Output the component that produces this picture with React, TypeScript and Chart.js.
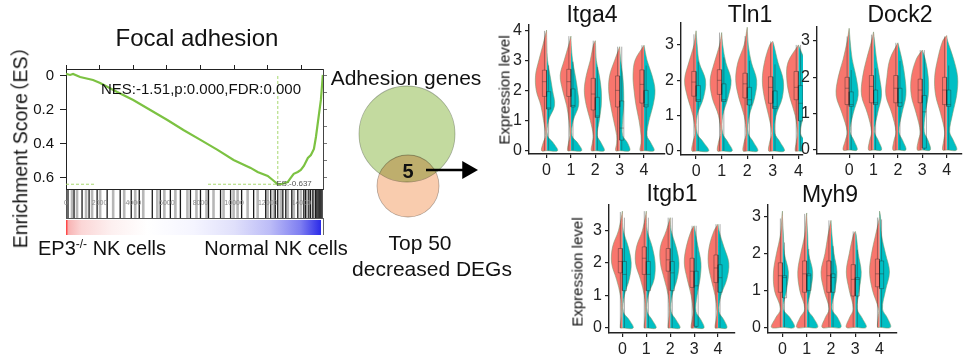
import React, { useEffect, useRef } from 'react';
import { Chart, registerables } from 'chart.js';
Chart.register(...registerables);

const FONT = '"Liberation Sans", Arial, Helvetica, "Noto Sans CJK SC", sans-serif';
Chart.defaults.font.family = FONT;

// ---------------- GSEA data ----------------
const esRanks = [0, 240, 420, 840, 1610, 2030, 3045, 4000, 5015, 6030, 6985, 8000, 9015, 9970, 10985, 11400, 12000, 12300, 12600, 12900, 13190, 13370, 13550, 13790, 13970, 14150, 14390, 14570, 14750, 14870, 15045, 15165, 15220, 15280];
const esScores = [0.012, 0.006, 0.012, -0.006, -0.024, -0.041, -0.094, -0.141, -0.2, -0.259, -0.318, -0.376, -0.435, -0.494, -0.541, -0.565, -0.588, -0.612, -0.637, -0.634, -0.624, -0.6, -0.576, -0.565, -0.553, -0.529, -0.482, -0.465, -0.429, -0.359, -0.229, -0.141, -0.071, 0.006];
const esMinRank = 12600;
const esMinScore = -0.637;
const esGuideBreaks = [1750, 8450];
const rankMax = 15290;
const rankTicks = [0, 2000, 4000, 6000, 8000, 10000, 12000, 14000];
const esTickValues = [0, -0.2, -0.4, -0.6];
const esTickLabels = ['0', '0.2', '0.4', '0.6'];
const esRightTicks = [0, -0.1, -0.2, -0.3, -0.4, -0.5, -0.6];
const hitsDark = [119, 478, 955, 1373, 1851, 2448, 3224, 3881, 4358, 5134, 5612, 6209, 6806, 7403, 8000, 8478, 9194, 9791, 10448, 11164, 11881, 12179, 12450, 12597, 12900, 13075, 13433, 13791, 14149, 14250, 14448, 14550, 14687, 14850, 14925, 15000, 15100, 15164, 15230];
const hitsLight = [358, 657, 1194, 1552, 2030, 2806, 3463, 4119, 4597, 5433, 5851, 6507, 7224, 7761, 8358, 8776, 9373, 9970, 10209, 10806, 11403, 12000, 12358, 12776, 13194, 13552, 13970, 14328, 14746, 15045];
const nesText = 'NES:-1.51,p:0.000,FDR:0.000';
const esMinText = 'ES:-0.637';

// ---------------- Venn data ----------------
const vennNames = ['Adhesion genes', 'Top 50 decreased DEGs'];
const vennCx = [0, 1];
const vennCy = [0, -52];
const vennR = [48, 31];
const vennOverlap = 5;
const arrowX = [19, 60.5];
const arrowY = -36;

// ---------------- Violin data ----------------
const groupLabels = ['0', '1', '2', '3', '4'];
const groupValues = [0, 1, 2, 3, 4];
const violinLevels = [0, 0.25, 0.5, 1, 1.5, 2, 2.5, 3, 3.5];

const itga4Tops = [4.0, 3.8, 3.65, 3.45, 3.5];
const itga4Red = [[5, 3.5, 1, 3, 5.7, 10.3, 11, 7.7, 3.7], [3.3, 2.5, 1, 2, 4.3, 8.3, 10.7, 6.7, 2.3], [4, 3, 2, 5, 9, 11, 9, 5, 2], [4, 3, 3, 6, 9, 11, 10, 5, 1], [4, 3, 3, 5, 8, 10, 11, 9, 2]];
const itga4Teal = [[11, 7, 1, 2, 8, 6, 3.5, 1, 0.3], [10.7, 7, 1, 2.3, 7.7, 6.7, 4.3, 1.7, 0.3], [9, 6, 2, 4, 6, 6, 4, 1, 0.3], [10, 8, 3, 3, 4, 4, 3, 1, 0], [10, 7, 3, 5, 9, 11, 8, 3, 0.5]];
const itga4BoxRed = [[1.8, 2.29, 2.67], [1.8, 2.29, 2.7], [1.35, 1.88, 2.4], [1.45, 2.0, 2.48], [1.58, 2.2, 2.68]];
const itga4BoxTeal = [[1.38, 1.42, 1.96], [1.45, 1.5, 2.05], [1.1, 1.15, 1.77], [0.35, 0.75, 1.65], [1.45, 1.52, 2.0]];

const tln1Tops = [3.4, 3.35, 3.5, 3.1, 3.0];
const tln1Red = [[4, 3, 1, 3, 8, 11, 7, 2, 0.5], [4, 3, 1, 3, 9, 11, 7, 2, 0.5], [4, 3, 1, 3, 8, 11, 9, 3, 1], [4, 3, 1, 4, 8, 10, 8, 3, 0], [3, 2, 1, 3, 8, 11, 10, 5, 0]];
const tln1Teal = [[12, 7, 1, 1, 7, 9, 3, 1, 0], [10, 6, 1, 1, 6, 9, 4, 1, 0], [10, 6, 1, 2, 7, 9, 4, 1, 0], [11, 7, 2, 3, 9, 10, 5, 1, 0], [10, 7, 2, 5, 10, 12, 7, 2, 0]];
const tln1BoxRed = [[1.55, 1.95, 2.25], [1.6, 2.0, 2.3], [1.5, 1.9, 2.2], [1.35, 1.8, 2.1], [1.45, 1.8, 2.25]];
const tln1BoxTeal = [[1.4, 1.45, 1.85], [1.4, 1.45, 1.9], [1.3, 1.45, 1.8], [1.2, 1.25, 1.7], [0.85, 1.35, 1.85]];

const dock2Tops = [3.35, 3.25, 2.95, 2.75, 3.15];
const dock2Red = [[6, 4, 2, 7, 13, 11, 6, 2, 0.5], [5, 4, 2, 6, 12, 11, 7, 2, 0.5], [5, 4, 2, 6, 12, 11, 8, 3, 0], [5, 4, 2, 6, 11, 11, 6, 1, 0], [4, 3, 2, 6, 11, 12, 9, 4, 0.5]];
const dock2Teal = [[8, 5, 1, 4, 9, 7, 3, 1, 0], [8, 5, 1, 4, 8, 6, 3, 1, 0], [8, 5, 1, 4, 8, 7, 4, 1, 0], [8, 6, 2, 3, 6, 6, 3, 0.5, 0], [10, 7, 3, 6, 10, 11, 7, 1, 0]];
const dock2BoxRed = [[1.25, 1.7, 2.0], [1.3, 1.75, 2.05], [1.3, 1.7, 2.05], [1.3, 1.65, 1.95], [1.25, 1.65, 2.0]];
const dock2BoxTeal = [[1.2, 1.25, 1.6], [1.25, 1.3, 1.65], [1.2, 1.3, 1.7], [0.05, 1.05, 1.5], [1.2, 1.25, 1.65]];

const itgb1Tops = [3.6, 3.6, 3.4, 3.15, 3.2];
const itgb1Red = [[2, 1.5, 1, 2, 6, 11, 10, 4, 0.5], [2, 1.5, 1, 2, 6, 11, 10, 4, 0.5], [2, 1.5, 1, 2, 6, 10, 10, 4, 0.5], [3, 2, 1, 3, 7, 10, 8, 3, 0], [3, 2, 1, 3, 7, 10, 9, 4, 0]];
const itgb1Teal = [[11, 7, 1, 2, 7, 9, 6, 1, 0], [10, 6, 1, 2, 8, 9, 6, 1, 0], [10, 6, 1, 2, 7, 9, 6, 1, 0], [10, 7, 2, 3, 6, 7, 4, 1, 0], [9, 6, 1, 3, 9, 11, 6, 1, 0]];
const itgb1BoxRed = [[1.7, 2.05, 2.45], [1.65, 2.15, 2.5], [1.75, 2.1, 2.45], [1.25, 1.75, 2.15], [1.4, 1.85, 2.25]];
const itgb1BoxTeal = [[1.15, 1.65, 2.05], [1.15, 1.65, 2.05], [1.15, 1.7, 2.05], [0.05, 1.3, 1.75], [1.1, 1.55, 1.95]];

const myh9Tops = [3.15, 3.1, 2.9, 2.6, 3.15];
const myh9Red = [[11, 7, 2, 8, 9, 6, 2, 0.5, 0], [10, 7, 2, 7, 9, 6, 2, 0.5, 0], [9, 6, 2, 7, 10, 6, 3, 0.5, 0], [9, 6, 2, 6, 9, 6, 2, 0, 0], [2, 1.5, 1, 7, 10, 8, 4, 0, 0]];
const myh9Teal = [[12, 8, 1, 4, 6, 2, 1, 0, 0], [11, 7, 1, 4, 6, 2, 1, 0, 0], [10, 7, 1, 4, 6, 3, 1, 0, 0], [11, 7, 2, 4, 6, 3, 1, 0, 0], [11, 8, 3, 6, 10, 6, 2, 1, 0]];
const myh9BoxRed = [[0.95, 1.4, 1.75], [0.95, 1.45, 1.8], [0.95, 1.4, 1.8], [0.85, 1.3, 1.7], [1.1, 1.45, 1.85]];
const myh9BoxTeal = [[0.8, 1.35, 1.4], [1.0, 1.4, 1.45], [0.95, 1.35, 1.45], [0.85, 1.3, 1.35], [1.05, 1.45, 1.8]];

// ---------------- styles / layout ----------------
const RED = '#F8766D';
const TEAL = '#00BFC4';
const OUTLINE = 'rgba(120,150,110,0.8)';
const BOXLINE = 'rgba(40,40,40,0.55)';
const DENSITY_TO_X = 1 / 24.4;
const BOX_HALF = 0.17;
const YA = 34, PT = 14, PR = 6, XA = 28;

const panels = [
  { title: 'Itga4', tops: itga4Tops, red: itga4Red, teal: itga4Teal, boxRed: itga4BoxRed, boxTeal: itga4BoxTeal, yTicks: [0, 1, 2, 3, 4], rect: [529, 25, 665, 154], xr: [-0.72, 4.86], yr: [-0.11, 4.17], tpos: [592, 14], ylab: [504, 90] },
  { title: 'Tln1', tops: tln1Tops, red: tln1Red, teal: tln1Teal, boxRed: tln1BoxRed, boxTeal: tln1BoxTeal, yTicks: [0, 1, 2, 3], rect: [681, 23, 803, 155], xr: [-0.59, 4.18], yr: [-0.113, 3.62], tpos: [750, 14], ylab: null },
  { title: 'Dock2', tops: dock2Tops, red: dock2Red, teal: dock2Teal, boxRed: dock2BoxRed, boxTeal: dock2BoxTeal, yTicks: [0, 1, 2, 3], rect: [817, 27, 962, 154], xr: [-1.32, 4.63], yr: [-0.11, 3.385], tpos: [900, 14], ylab: null },
  { title: 'Itgb1', tops: itgb1Tops, red: itgb1Red, teal: itgb1Teal, boxRed: itgb1BoxRed, boxTeal: itgb1BoxTeal, yTicks: [0, 1, 2, 3], rect: [609, 205, 735, 333], xr: [-0.56, 4.71], yr: [-0.154, 3.79], tpos: [672, 193], ylab: [577, 272] },
  { title: 'Myh9', tops: myh9Tops, red: myh9Red, teal: myh9Teal, boxRed: myh9BoxRed, boxTeal: myh9BoxTeal, yTicks: [0, 1, 2, 3], rect: [768, 205, 897, 333], xr: [-0.595, 4.72], yr: [-0.153, 3.316], tpos: [830, 194], ylab: null },
];

function halfViolin(g: number, side: number, widths: number[], top: number) {
  const pts: any[] = [{ x: g, y: 0 }];
  violinLevels.forEach((lv, i) => {
    if (lv < top) pts.push({ x: g + side * widths[i] * DENSITY_TO_X, y: lv });
  });
  pts.push({ x: g, y: top });
  return pts;
}

function boxPath(g: number, side: number, q: number[], top: number) {
  const [q1, med, q3] = q;
  const e = g + side * BOX_HALF;
  const m = g + side * BOX_HALF / 2;
  const hi = Math.min(top, q3 + 1.5 * (q3 - q1));
  return [
    { x: g, y: q1 }, { x: e, y: q1 }, { x: e, y: q3 }, { x: g, y: q3 }, { x: g, y: q1 },
    { x: g, y: null },
    { x: g, y: med }, { x: e, y: med },
    { x: g, y: null },
    { x: m, y: 0 }, { x: m, y: q1 },
    { x: g, y: null },
    { x: m, y: q3 }, { x: m, y: hi },
  ];
}

const axisCommon = (size: number) => ({
  grid: { drawOnChartArea: false, tickLength: 4, color: '#222', lineWidth: 1.2 },
  border: { display: true, color: '#222', width: 1.4 },
  ticks: { font: { size }, color: '#222', padding: 3, autoSkip: false, maxRotation: 0 },
});

function violinConfig(p: any): any {
  const datasets: any[] = [];
  p.tops.forEach((top: number, g: number) => {
    datasets.push({ data: halfViolin(g, -1, p.red[g], top), fill: 'shape', backgroundColor: RED, borderColor: OUTLINE, borderWidth: 0.7, tension: 0.35, pointRadius: 0, order: 2 });
    datasets.push({ data: halfViolin(g, 1, p.teal[g], top), fill: 'shape', backgroundColor: TEAL, borderColor: OUTLINE, borderWidth: 0.7, tension: 0.35, pointRadius: 0, order: 2 });
    datasets.push({ data: boxPath(g, -1, p.boxRed[g], top), fill: false, borderColor: BOXLINE, borderWidth: 0.7, tension: 0, pointRadius: 0, order: 1 });
    datasets.push({ data: boxPath(g, 1, p.boxTeal[g], top), fill: false, borderColor: BOXLINE, borderWidth: 0.7, tension: 0, pointRadius: 0, order: 1 });
  });
  const ax = axisCommon(16);
  return {
    type: 'line',
    data: { datasets },
    options: {
      animation: false, responsive: false, events: [],
      layout: { padding: { left: 0, top: PT, right: PR, bottom: 0 }, autoPadding: false },
      plugins: { legend: { display: false }, tooltip: { enabled: false }, title: { display: false } },
      scales: {
        x: {
          type: 'linear', min: p.xr[0], max: p.xr[1], ...ax,
          ticks: { ...ax.ticks, callback: (v: number) => groupLabels[v] },
          afterBuildTicks: (s: any) => { s.ticks = groupValues.map((v) => ({ value: v })); },
          afterFit: (s: any) => { s.height = XA; },
        },
        y: {
          type: 'linear', min: p.yr[0], max: p.yr[1], ...ax,
          ticks: { ...ax.ticks, callback: (v: number) => String(v) },
          afterBuildTicks: (s: any) => { s.ticks = p.yTicks.map((v: number) => ({ value: v })); },
          afterFit: (s: any) => { s.width = YA; },
        },
      },
    },
  };
}

const gseaBands = {
  id: 'gseaBands',
  beforeDraw(chart: any) {
    const { ctx, chartArea: a, scales } = chart;
    const x = scales.x;
    const y0 = a.bottom, y1 = a.bottom + 29, b0 = y1 + 2, b1 = b0 + 15;
    ctx.save();
    ctx.lineWidth = 2.6;
    ctx.strokeStyle = 'rgba(165,165,165,0.8)';
    hitsLight.forEach((r) => { const px = x.getPixelForValue(r); ctx.beginPath(); ctx.moveTo(px, y0); ctx.lineTo(px, y1); ctx.stroke(); });
    ctx.lineWidth = 1.3;
    ctx.strokeStyle = '#1a1a1a';
    hitsDark.forEach((r) => { const px = x.getPixelForValue(r); ctx.beginPath(); ctx.moveTo(px, y0); ctx.lineTo(px, y1); ctx.stroke(); });
    ctx.lineWidth = 1;
    ctx.strokeStyle = '#555';
    ctx.strokeRect(a.left + 0.5, y0 + 0.5, a.right - a.left - 1, y1 - y0);
    const xl = x.getPixelForValue(0), xr = x.getPixelForValue(rankMax) - 2;
    const g = ctx.createLinearGradient(xl, 0, xr, 0);
    g.addColorStop(0, '#ff3030');
    g.addColorStop(0.01, '#f8b4b4');
    g.addColorStop(0.06, '#fbd6d6');
    g.addColorStop(0.18, '#fdf0f0');
    g.addColorStop(0.32, '#ffffff');
    g.addColorStop(0.5, '#f5f5ff');
    g.addColorStop(0.66, '#e0e0fb');
    g.addColorStop(0.8, '#bcbcf7');
    g.addColorStop(0.92, '#7e7ef1');
    g.addColorStop(1, '#2a2ae8');
    ctx.fillStyle = g;
    ctx.fillRect(xl, b0, xr - xl, b1 - b0);
    ctx.strokeStyle = '#666';
    ctx.beginPath(); ctx.moveTo(a.right + 0.5, y1); ctx.lineTo(a.right + 0.5, b1); ctx.stroke();
    ctx.restore();
  },
};

function gseaConfig(): any {
  const curve = esRanks.map((r, i) => ({ x: r, y: esScores[i] }));
  const hline = [
    { x: 0, y: esMinScore }, { x: esGuideBreaks[0], y: esMinScore }, { x: esGuideBreaks[0], y: null },
    { x: esGuideBreaks[1], y: esMinScore }, { x: esMinRank, y: esMinScore },
  ];
  const vline = [{ x: esMinRank, y: 0 }, { x: esMinRank, y: esMinScore }];
  const tickGrid = { drawOnChartArea: false, color: '#222', lineWidth: 1 };
  return {
    type: 'line',
    data: {
      datasets: [
        { data: curve, borderColor: '#7CC242', borderWidth: 2.2, pointRadius: 0, tension: 0, fill: false, order: 0 },
        { data: hline, borderColor: '#A8D86E', borderWidth: 1, borderDash: [3, 2], pointRadius: 0, fill: false, order: 1 },
        { data: vline, borderColor: '#A8D86E', borderWidth: 1, borderDash: [3, 2], pointRadius: 0, fill: false, order: 1 },
      ],
    },
    options: {
      animation: false, responsive: false, events: [],
      layout: { padding: { left: 0, top: 64, right: 17, bottom: 7 }, autoPadding: false },
      plugins: { legend: { display: false }, tooltip: { enabled: false }, title: { display: false } },
      scales: {
        x: {
          type: 'linear', position: 'bottom', min: 0, max: rankMax,
          grid: { display: false }, border: { display: true, color: '#222', width: 1 },
          ticks: { font: { size: 7 }, color: '#8a8a8a', padding: 2, autoSkip: false, maxRotation: 0, callback: (v: number) => String(v) },
          afterBuildTicks: (s: any) => { s.ticks = rankTicks.map((v) => ({ value: v })); },
          afterFit: (s: any) => { s.height = 49; },
        },
        xTop: {
          type: 'linear', position: 'top', min: 0, max: rankMax,
          grid: { ...tickGrid, tickLength: 4 }, border: { display: true, color: '#222', width: 1 },
          ticks: { display: false },
          afterBuildTicks: (s: any) => { s.ticks = rankTicks.map((v) => ({ value: v })); },
          afterFit: (s: any) => { s.height = 5; },
        },
        y: {
          type: 'linear', position: 'left', min: -0.665, max: 0.041,
          grid: { ...tickGrid, tickLength: 6 }, border: { display: true, color: '#222', width: 1 },
          ticks: { font: { size: 15 }, color: '#111', padding: 6, callback: (v: number, i: number) => esTickLabels[i] },
          afterBuildTicks: (s: any) => { s.ticks = esTickValues.map((v) => ({ value: v })); },
          afterFit: (s: any) => { s.width = 66; },
        },
        yR: {
          type: 'linear', position: 'right', min: -0.665, max: 0.041,
          grid: { ...tickGrid, tickLength: 4, color: '#777' }, border: { display: true, color: '#444', width: 1 },
          ticks: { display: false },
          afterBuildTicks: (s: any) => { s.ticks = esRightTicks.map((v) => ({ value: v })); },
          afterFit: (s: any) => { s.width = 5; },
        },
      },
    },
    plugins: [gseaBands],
  };
}

const multiplyPlugin = {
  id: 'multiply',
  beforeDatasetsDraw(chart: any) { chart.ctx.save(); chart.ctx.globalCompositeOperation = 'multiply'; },
  afterDatasetsDraw(chart: any) { chart.ctx.restore(); },
};

function vennConfig(): any {
  return {
    type: 'bubble',
    data: {
      datasets: [
        { type: 'line', data: [{ x: arrowX[0], y: arrowY }, { x: arrowX[1], y: arrowY }], borderColor: '#000', borderWidth: 2.5, pointRadius: [0, 10.5], pointStyle: 'triangle', pointRotation: 90, pointBackgroundColor: '#000', pointBorderColor: '#000', pointBorderWidth: 0, order: 0, clip: false },
        { label: vennNames[1], data: [{ x: vennCx[1], y: vennCy[1], r: vennR[1] }], backgroundColor: '#F9CCAE', borderColor: 'rgba(130,120,110,0.6)', borderWidth: 0.8, order: 1, clip: false },
        { label: vennNames[0], data: [{ x: vennCx[0], y: vennCy[0], r: vennR[0] }], backgroundColor: '#C3DA9F', borderColor: 'rgba(120,130,110,0.6)', borderWidth: 0.8, order: 2, clip: false },
      ],
    },
    options: {
      animation: false, responsive: false, events: [],
      layout: { padding: 0, autoPadding: false },
      plugins: { legend: { display: false }, tooltip: { enabled: false } },
      scales: {
        x: { type: 'linear', display: false, min: -77, max: 83 },
        y: { type: 'linear', display: false, min: -96, max: 54 },
      },
    },
    plugins: [multiplyPlugin],
  };
}

function ChartBox({ box, make }: { box: number[]; make: () => any }) {
  const ref = useRef<HTMLCanvasElement>(null);
  useEffect(() => {
    const c = new Chart(ref.current as HTMLCanvasElement, make());
    return () => c.destroy();
  }, []);
  return (
    <canvas ref={ref} width={box[2]} height={box[3]}
      style={{ position: 'absolute', left: box[0], top: box[1], width: box[2], height: box[3], display: 'block' }} />
  );
}

function T({ x, y, size, children, bold, rotate, color }: any) {
  return (
    <div style={{
      position: 'absolute', left: x, top: y, transform: `translate(-50%,-50%)${rotate ? ` rotate(${rotate}deg)` : ''}`,
      fontSize: size, fontFamily: FONT, whiteSpace: 'nowrap', lineHeight: 1, fontWeight: bold ? 'bold' : 'normal', color: color || '#111',
    }}>{children}</div>
  );
}

const CJK = '"Noto Sans CJK SC", sans-serif';

export default function App() {
  return (
    <div style={{ position: 'absolute', left: 0, top: 0, width: 969, height: 358, background: '#fff', overflow: 'hidden' }}>
      <ChartBox box={[0, 0, 345, 245]} make={gseaConfig} />
      <ChartBox box={[330, 80, 160, 150]} make={vennConfig} />
      {panels.map((p) => (
        <ChartBox key={p.title}
          box={[p.rect[0] - YA, p.rect[1] - PT, p.rect[2] - p.rect[0] + YA + PR, p.rect[3] - p.rect[1] + PT + XA]}
          make={() => violinConfig(p)} />
      ))}
      <T x={197} y={38} size={24}>Focal adhesion</T>
      <T x={20} y={147} size={19.5} rotate={-90}>Enrichment Score<span style={{ fontFamily: CJK, marginLeft: '-0.45em' }}>（</span>ES<span style={{ fontFamily: CJK, letterSpacing: '-0.45em' }}>）</span></T>
      <T x={201} y={88} size={15}>{nesText}</T>
      <T x={294} y={184} size={8} color="#555">{esMinText}</T>
      <T x={102} y={248} size={20}>EP3<sup style={{ fontSize: 12 }}>-/-</sup> NK cells</T>
      <T x={276} y={248} size={20}>Normal NK cells</T>
      <T x={406} y={77} size={21}>{vennNames[0]}</T>
      <T x={408} y={171} size={20} bold>{vennOverlap}</T>
      <T x={420} y={242} size={21}>Top 50</T>
      <T x={432} y={268} size={21}>decreased DEGs</T>
      {panels.map((p) => (
        <T key={'t' + p.title} x={p.tpos[0]} y={p.tpos[1]} size={23}>{p.title}</T>
      ))}
      {panels.filter((p) => p.ylab).map((p) => (
        <T key={'l' + p.title} x={(p.ylab as number[])[0]} y={(p.ylab as number[])[1]} size={15} rotate={-90}>Expression level</T>
      ))}
    </div>
  );
}
